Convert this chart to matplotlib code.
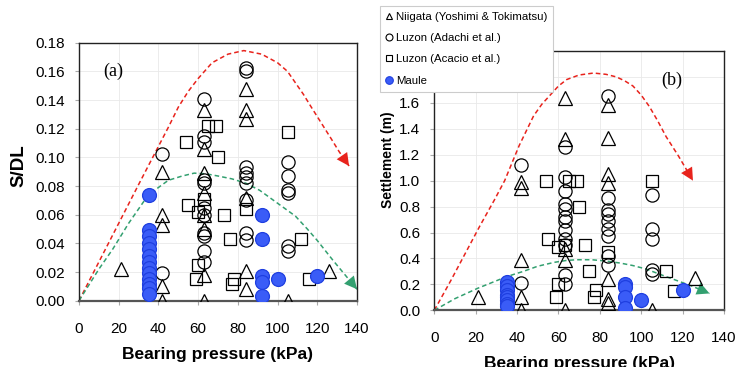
import numpy as np
import matplotlib
matplotlib.use('Agg')
import matplotlib.pyplot as plt
from matplotlib.lines import Line2D

plt.rcParams['font.family'] = ['Liberation Sans', 'DejaVu Sans']

# ---- panel (a): S/DL ----
niigata_a_x = [21, 42, 42, 42, 42, 42, 63, 63, 63, 63, 63, 63, 63, 63, 84, 84, 84, 84, 84, 84, 105, 126]
niigata_a_y = [0.022, 0.090, 0.060, 0.053, 0.010, 0.000, 0.133, 0.106, 0.089, 0.075, 0.060, 0.050, 0.018, 0.000,
               0.148, 0.133, 0.127, 0.072, 0.021, 0.008, 0.000, 0.021]
adachi_a_x = [42, 42, 63, 63, 63, 63, 63, 63, 63, 63, 63, 63, 63, 84, 84, 84, 84, 84, 84, 84, 84, 84,
              105, 105, 105, 105, 105, 105]
adachi_a_y = [0.102, 0.019, 0.141, 0.115, 0.111, 0.084, 0.082, 0.065, 0.060, 0.047, 0.045, 0.035, 0.027,
              0.162, 0.160, 0.093, 0.089, 0.086, 0.082, 0.070, 0.047, 0.042,
              0.097, 0.087, 0.077, 0.075, 0.038, 0.035]
acacio_a_x = [54, 65, 69, 70, 55, 60, 63, 73, 84, 76, 112, 105, 60, 59, 78, 77, 116]
acacio_a_y = [0.111, 0.122, 0.122, 0.100, 0.067, 0.062, 0.071, 0.060, 0.064, 0.043, 0.043, 0.118,
              0.025, 0.015, 0.015, 0.012, 0.015]
maule_a_x = [35] * 13 + [92] * 5 + [100, 120]
maule_a_y = [0.074, 0.049, 0.045, 0.040, 0.036, 0.031, 0.027, 0.023, 0.019, 0.015, 0.012, 0.009, 0.005,
             0.060, 0.043, 0.017, 0.013, 0.003, 0.015, 0.017]
upper_a_x = [0, 10, 20, 30, 39, 45, 50, 55, 60, 67, 75, 83, 92, 100, 105, 109, 113, 117, 122, 127, 131, 136]
upper_a_y = [0, 0.027, 0.054, 0.081, 0.105, 0.121, 0.135, 0.146, 0.155, 0.166, 0.172, 0.1745, 0.172, 0.166,
             0.160, 0.152, 0.144, 0.135, 0.124, 0.113, 0.104, 0.094]
lower_a_x = [0, 10, 17, 25, 34, 40, 45, 52, 58, 64, 70, 77, 84, 91, 97, 103, 109, 115, 120, 124, 128, 134, 140]
lower_a_y = [0, 0.022, 0.036, 0.054, 0.072, 0.079, 0.084, 0.087, 0.089, 0.0885, 0.087, 0.085, 0.082, 0.077,
             0.071, 0.065, 0.059, 0.050, 0.042, 0.035, 0.028, 0.018, 0.008]

# ---- panel (b): settlement ----
niigata_b_x = [21, 42, 42, 42, 42, 42, 63, 63, 63, 63, 63, 84, 84, 84, 84, 84, 84, 84, 105, 126]
niigata_b_y = [0.10, 0.99, 0.94, 0.39, 0.10, 0.00, 1.64, 1.32, 0.47, 0.39, 0.00,
               1.58, 1.33, 1.05, 0.98, 0.24, 0.09, 0.06, 0.00, 0.25]
adachi_b_x = [42, 42, 63, 63, 63, 63, 63, 63, 63, 63, 63, 63, 63, 63, 84, 84, 84, 84, 84, 84, 84, 84, 84,
              105, 105, 105, 105, 105]
adachi_b_y = [1.12, 0.21, 1.26, 1.03, 0.92, 0.82, 0.78, 0.72, 0.69, 0.62, 0.55, 0.50, 0.27, 0.20,
              1.65, 0.87, 0.77, 0.74, 0.69, 0.63, 0.57, 0.42, 0.35,
              0.89, 0.63, 0.55, 0.31, 0.28]
acacio_b_x = [54, 65, 69, 70, 55, 60, 63, 73, 84, 75, 112, 105, 60, 59, 78, 77, 116]
acacio_b_y = [1.00, 1.00, 1.00, 0.80, 0.55, 0.49, 0.50, 0.50, 0.45, 0.30, 0.30, 1.00,
              0.20, 0.10, 0.16, 0.10, 0.15]
maule_b_x = [35] * 8 + [92] * 4 + [100, 120]
maule_b_y = [0.22, 0.19, 0.16, 0.12, 0.10, 0.08, 0.05, 0.03, 0.20, 0.18, 0.10, 0.02, 0.08, 0.16]
upper_b_x = [0, 8, 15, 22, 29, 34, 41, 48, 52, 56, 60, 64, 70, 77, 83, 88, 92, 96, 100, 104, 108, 112,
             118, 125]
upper_b_y = [0, 0.23, 0.44, 0.65, 0.85, 1.00, 1.27, 1.50, 1.59, 1.66, 1.73, 1.78, 1.815, 1.83, 1.82, 1.80,
             1.77, 1.73, 1.66, 1.57, 1.46, 1.34, 1.19, 1.00]
lower_b_x = [0, 10, 21, 35, 43, 50, 58, 64, 69, 76, 83, 90, 96, 102, 107, 112, 118, 124, 133]
lower_b_y = [0, 0.09, 0.17, 0.26, 0.30, 0.34, 0.37, 0.385, 0.39, 0.39, 0.38, 0.364, 0.345, 0.32, 0.29,
             0.26, 0.225, 0.19, 0.13]

labels = ['Niigata (Yoshimi & Tokimatsu)', 'Luzon (Adachi et al.)', 'Luzon (Acacio et al.)', 'Maule']

RED = '#e8231c'
GREEN = '#33a070'
BLUE_FACE = '#3a5cf7'
BLUE_EDGE = '#1f3fe0'


def trend(ax, xs, ys, color):
    ax.plot(xs, ys, ls=(0, (3, 2)), color=color, lw=1.1, zorder=1)
    ax.annotate('', xy=(xs[-1], ys[-1]), xytext=(xs[-2], ys[-2]),
                arrowprops=dict(arrowstyle='-|>,head_length=0.75,head_width=0.38', color=color,
                                lw=0.01, shrinkA=0, shrinkB=0, mutation_scale=12), zorder=2)


def panel(ax, data, ylim, yticks, ylabels, tag, tag_xy):
    (nx, ny), (ax_, ay), (qx, qy), (mx, my), (ux, uy), (lx, ly) = data
    ax.grid(True, color='#e9e9e9', lw=0.6, zorder=0)
    ax.set_axisbelow(True)
    trend(ax, ux, uy, RED)
    trend(ax, lx, ly, GREEN)
    ax.plot(nx, ny, ls='none', marker='^', ms=9.5, mfc='none', mec='black', mew=0.9, zorder=3)
    ax.plot(ax_, ay, ls='none', marker='o', ms=9.5, mfc='none', mec='black', mew=0.9, zorder=3)
    ax.plot(qx, qy, ls='none', marker='s', ms=8.5, mfc='none', mec='black', mew=0.9, zorder=3)
    ax.plot(mx, my, ls='none', marker='o', ms=10, mfc=BLUE_FACE, mec=BLUE_EDGE, mew=0.9, zorder=4)
    ax.set_xlim(0, 140)
    ax.set_ylim(*ylim)
    ax.set_xticks(np.arange(0, 141, 20))
    ax.set_yticks(yticks)
    ax.set_yticklabels(ylabels)
    ax.tick_params(length=3, width=0.8, color='#aaaaaa', labelsize=11)
    ax.tick_params(axis='x', pad=12)
    ax.tick_params(axis='y', pad=7)
    for s in ax.spines.values():
        s.set_color('#222222')
        s.set_linewidth(1.0)
    ax.spines['bottom'].set_color('#555555')
    ax.spines['bottom'].set_linewidth(1.6)
    ax.text(tag_xy[0], tag_xy[1], tag, family='Liberation Serif', fontsize=13, ha='center', va='center')
    ax.set_xlabel('Bearing pressure (kPa)', fontsize=12.5, fontweight='bold', labelpad=8)


fig = plt.figure(figsize=(7.37, 3.67), dpi=100)
ax1 = fig.add_axes([79 / 737, 1 - 300.7 / 367, 278 / 737, 258 / 367])
ax2 = fig.add_axes([434.3 / 737, 1 - 310.3 / 367, 289.7 / 737, 259.3 / 367])

ticks_a = np.round(np.arange(0, 0.181, 0.02), 2)
ticks_b = np.round(np.arange(0, 2.01, 0.2), 1)
panel(ax1, [(niigata_a_x, niigata_a_y), (adachi_a_x, adachi_a_y), (acacio_a_x, acacio_a_y),
            (maule_a_x, maule_a_y), (upper_a_x, upper_a_y), (lower_a_x, lower_a_y)],
      (0, 0.18), ticks_a, ['{:.2f}'.format(v) for v in ticks_a], '(a)', (17, 0.160))
# the two top labels of (b) sit under the legend in the original
panel(ax2, [(niigata_b_x, niigata_b_y), (adachi_b_x, adachi_b_y), (acacio_b_x, acacio_b_y),
            (maule_b_x, maule_b_y), (upper_b_x, upper_b_y), (lower_b_x, lower_b_y)],
      (0, 2.0), ticks_b, ['{:.1f}'.format(v) if v < 1.7 else '' for v in ticks_b], '(b)', (114.6, 1.775))

ax1.set_ylabel('S/DL', fontsize=13.5, fontweight='bold')
ax1.yaxis.set_label_coords(-0.187, 0.524)
ax2.set_ylabel('Settlement (m)', fontsize=10, fontweight='bold')
ax2.yaxis.set_label_coords(-0.136, 0.58)

handles = [
    Line2D([], [], ls='none', marker='^', ms=5, mfc='none', mec='black', mew=0.8),
    Line2D([], [], ls='none', marker='o', ms=5, mfc='none', mec='black', mew=0.8),
    Line2D([], [], ls='none', marker='s', ms=5, mfc='none', mec='black', mew=0.8),
    Line2D([], [], ls='none', marker='o', ms=5.5, mfc=BLUE_FACE, mec=BLUE_EDGE, mew=0.8),
]
leg = fig.legend(handles, labels, loc='upper left', bbox_to_anchor=(380 / 737, 1 - 6 / 367),
                 fontsize=8.2, frameon=True, fancybox=False, framealpha=1, edgecolor='#cccccc',
                 handlelength=0.6, handletextpad=0.3, labelspacing=1.0, borderpad=0.5,
                 borderaxespad=0)
leg.get_frame().set_linewidth(0.8)
leg.set_zorder(10)

fig.savefig('out.png', dpi=100)
